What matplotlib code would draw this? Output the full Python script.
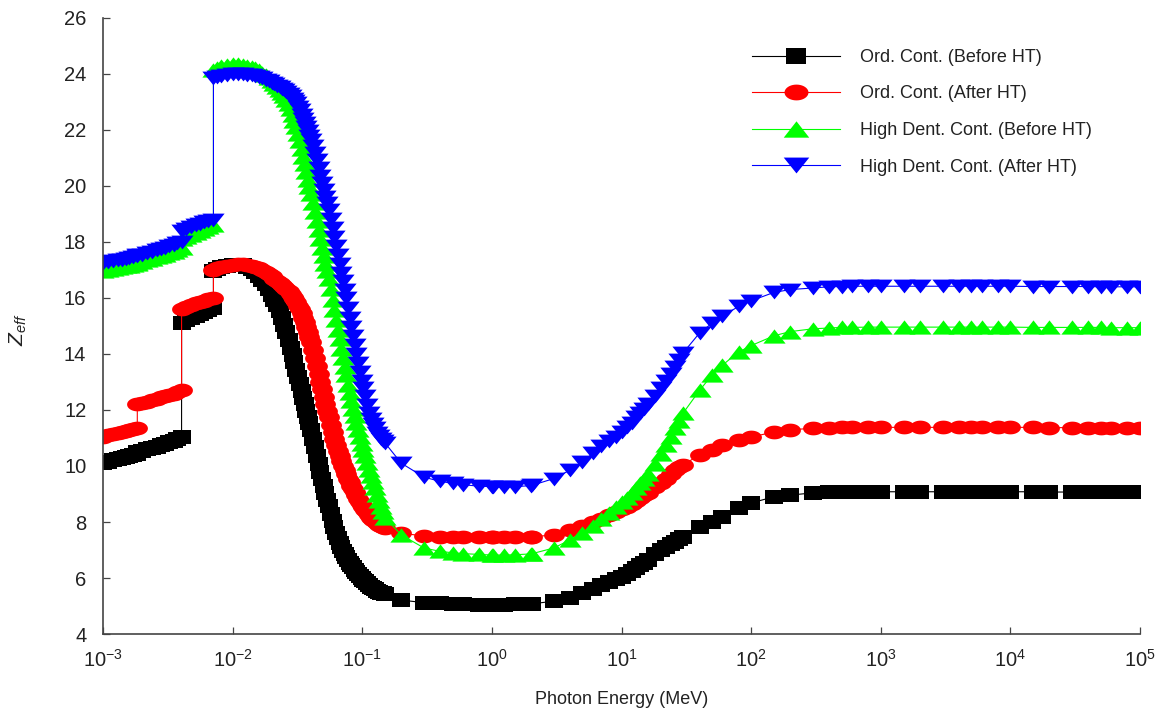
import numpy as np
import matplotlib
matplotlib.use('Agg')
import matplotlib.pyplot as plt
from matplotlib import font_manager
from matplotlib.path import Path
from matplotlib.ticker import NullLocator, FixedLocator

names = {f.name for f in font_manager.fontManager.ttflist}
FONT = 'Liberation Sans Narrow' if 'Liberation Sans Narrow' in names else 'Liberation Sans'
NARROW = FONT.endswith('Narrow')
plt.rcParams['font.family'] = [FONT, 'DejaVu Sans']
plt.rcParams['mathtext.fontset'] = 'custom'
plt.rcParams['mathtext.rm'] = FONT
plt.rcParams['mathtext.it'] = FONT + ':italic'
plt.rcParams['mathtext.bf'] = FONT + ':bold'

# ---------------- data ----------------
energy_low_keV = [1.0, 1.1, 1.2, 1.3, 1.4, 1.5, 1.6, 1.7, 1.839, 1.839, 2.0, 2.2, 2.4, 2.6, 2.8, 3.0,
                  3.25, 3.5, 3.75, 4.038, 4.038, 4.4, 4.8, 5.2, 5.6, 6.0, 6.5, 7.112, 7.112, 7.6, 8.2,
                  9.0, 10, 11, 12, 13, 14, 15, 16, 17, 18, 19,
                  20, 21, 22, 23, 24, 25, 26, 27, 28, 29, 30, 31, 32, 33, 34, 35, 36, 37, 38, 39, 40,
                  41.5, 43, 44.5, 46, 47.5, 49, 50.5, 52, 53.5, 55,
                  57, 59, 61, 63, 65, 67, 69, 71, 73, 75,
                  77.5, 80, 82.5, 85, 87.5, 90, 93, 96, 99, 102, 105,
                  109, 113, 117, 121, 125, 130, 135, 140, 145, 150]
energy_high_MeV = [0.2, 0.3, 0.4, 0.5, 0.6, 0.8, 1.0, 1.022, 1.25, 1.5, 2.0, 2.044, 3, 4, 5, 6, 7, 8,
                   9, 10, 11, 12, 13, 14, 15, 16, 18, 20, 22, 24, 26, 28, 30, 40, 50, 60, 80, 100,
                   150, 200, 300, 400, 500, 600, 800, 1000, 1500, 2000, 3000, 4000, 5000, 6000, 8000,
                   1e4, 1.5e4, 2e4, 3e4, 4e4, 5e4, 6e4, 8e4, 1e5]

ord_before_low = [10.10, 10.15, 10.20, 10.25, 10.29, 10.33, 10.36, 10.40, 10.43, 10.50, 10.54, 10.59,
                  10.64, 10.69, 10.74, 10.78, 10.84, 10.90, 10.97, 11.05, 15.10, 15.20, 15.29, 15.37,
                  15.44, 15.50, 15.57, 15.65, 16.97, 17.03, 17.09, 17.14,
                  17.17, 17.18, 17.17, 17.12, 17.03, 16.92, 16.80, 16.65, 16.50, 16.32,
                  16.10, 15.93, 15.74, 15.52, 15.28, 15.03, 14.77, 14.50, 14.23, 13.96, 13.70, 13.44,
                  13.18, 12.93, 12.68, 12.44, 12.20, 11.97, 11.74, 11.52, 11.30,
                  10.98, 10.67, 10.37, 10.08, 9.80, 9.53, 9.27, 9.02, 8.79, 8.57,
                  8.30, 8.05, 7.82, 7.61, 7.42, 7.25, 7.10, 6.97, 6.86, 6.76,
                  6.65, 6.55, 6.46, 6.38, 6.30, 6.23, 6.15, 6.07, 6.00, 5.94, 5.88,
                  5.81, 5.75, 5.69, 5.64, 5.60, 5.55, 5.51, 5.48, 5.46, 5.44]
ord_before_high = [5.21, 5.12, 5.09, 5.07, 5.06, 5.05, 5.05, 5.05, 5.05, 5.06, 5.08, 5.08, 5.17, 5.30,
                   5.45, 5.60, 5.75, 5.85, 5.95, 6.05, 6.15, 6.25, 6.35, 6.45, 6.55, 6.65, 6.85, 7.00,
                   7.10, 7.20, 7.30, 7.38, 7.45, 7.82, 8.00, 8.18, 8.50, 8.68, 8.90, 8.96, 9.04, 9.06,
                   9.07, 9.07, 9.08, 9.08, 9.08, 9.08, 9.08, 9.08, 9.08, 9.08, 9.08, 9.08, 9.08, 9.07,
                   9.07, 9.07, 9.07, 9.06, 9.06, 9.06]

ord_after_low = [11.05, 11.10, 11.14, 11.18, 11.22, 11.25, 11.28, 11.31, 11.35, 12.20, 12.25, 12.30,
                 12.35, 12.40, 12.45, 12.50, 12.54, 12.58, 12.64, 12.70, 15.60, 15.68, 15.75, 15.81,
                 15.86, 15.90, 15.95, 16.00, 17.00, 17.06, 17.11, 17.15,
                 17.19, 17.20, 17.20, 17.19, 17.16, 17.12, 17.06, 17.00, 16.93, 16.85,
                 16.77, 16.69, 16.62, 16.55, 16.48, 16.41, 16.33, 16.25, 16.15, 16.05, 15.95, 15.85,
                 15.73, 15.60, 15.45, 15.30, 15.14, 14.98, 14.80, 14.62, 14.44,
                 14.15, 13.87, 13.58, 13.29, 13.01, 12.74, 12.47, 12.22, 11.98, 11.75,
                 11.47, 11.22, 10.98, 10.76, 10.55, 10.35, 10.17, 10.00, 9.85, 9.71,
                 9.55, 9.42, 9.29, 9.17, 9.06, 8.95, 8.83, 8.71, 8.61, 8.52, 8.44,
                 8.34, 8.25, 8.15, 8.08, 8.02, 7.95, 7.90, 7.86, 7.83, 7.80]
ord_after_high = [7.60, 7.50, 7.47, 7.46, 7.45, 7.45, 7.45, 7.45, 7.45, 7.46, 7.47, 7.47, 7.54, 7.71,
                  7.85, 8.00, 8.12, 8.25, 8.35, 8.45, 8.55, 8.65, 8.75, 8.85, 8.95, 9.05, 9.25, 9.40,
                  9.55, 9.70, 9.85, 9.95, 10.05, 10.39, 10.57, 10.75, 10.93, 11.04, 11.21, 11.29,
                  11.35, 11.37, 11.38, 11.38, 11.38, 11.38, 11.38, 11.38, 11.38, 11.38, 11.38, 11.38,
                  11.38, 11.38, 11.38, 11.37, 11.37, 11.37, 11.37, 11.37, 11.37, 11.37]

high_before_low = [16.95, 16.99, 17.03, 17.07, 17.10, 17.13, 17.16, 17.19, 17.22, 17.26, 17.30, 17.35,
                   17.40, 17.45, 17.50, 17.55, 17.60, 17.66, 17.72, 17.80, 18.10, 18.18, 18.26, 18.33,
                   18.40, 18.45, 18.52, 18.60, 24.15, 24.22, 24.28, 24.32,
                   24.35, 24.35, 24.33, 24.30, 24.26, 24.20, 24.13, 24.05, 23.96, 23.86,
                   23.75, 23.65, 23.54, 23.42, 23.31, 23.20, 23.08, 22.94, 22.76, 22.55, 22.33, 22.10,
                   21.85, 21.60, 21.33, 21.05, 20.78, 20.50, 20.22, 19.95, 19.72,
                   19.40, 19.08, 18.75, 18.43, 18.11, 17.80, 17.51, 17.23, 16.96, 16.68,
                   16.31, 15.94, 15.57, 15.22, 14.87, 14.52, 14.19, 13.86, 13.55, 13.25,
                   12.91, 12.60, 12.32, 12.05, 11.80, 11.55, 11.28, 11.02, 10.80, 10.57, 10.37,
                   10.11, 9.86, 9.63, 9.42, 9.22, 8.97, 8.75, 8.55, 8.35, 8.15]
high_before_high = [7.54, 7.07, 6.95, 6.90, 6.87, 6.84, 6.82, 6.82, 6.82, 6.83, 6.86, 6.87, 7.07, 7.36,
                    7.60, 7.85, 8.10, 8.33, 8.52, 8.70, 8.85, 9.02, 9.20, 9.38, 9.55, 9.72, 10.08,
                    10.42, 10.75, 11.05, 11.35, 11.62, 11.90, 12.70, 13.25, 13.60, 14.07, 14.30, 14.65,
                    14.80, 14.90, 14.93, 14.95, 14.95, 14.96, 14.96, 14.96, 14.96, 14.96, 14.96, 14.96,
                    14.96, 14.96, 14.96, 14.95, 14.95, 14.95, 14.95, 14.95, 14.94, 14.94, 14.94]

high_after_low = [17.25, 17.28, 17.31, 17.34, 17.37, 17.40, 17.43, 17.46, 17.49, 17.52, 17.55, 17.60,
                  17.65, 17.70, 17.75, 17.80, 17.85, 17.90, 17.95, 18.00, 18.40, 18.47, 18.54, 18.60,
                  18.65, 18.70, 18.75, 18.80, 23.85, 23.90, 23.94, 23.97,
                  23.99, 24.00, 24.00, 23.98, 23.95, 23.92, 23.88, 23.84, 23.79, 23.74,
                  23.68, 23.63, 23.57, 23.52, 23.47, 23.42, 23.37, 23.29, 23.21, 23.12, 23.04, 22.95,
                  22.83, 22.70, 22.55, 22.40, 22.25, 22.10, 21.95, 21.80, 21.65,
                  21.42, 21.18, 20.92, 20.65, 20.37, 20.12, 19.87, 19.62, 19.38, 19.14,
                  18.82, 18.50, 18.18, 17.85, 17.52, 17.20, 16.90, 16.60, 16.30, 16.00,
                  15.65, 15.30, 14.97, 14.65, 14.33, 14.00, 13.67, 13.35, 13.05, 12.77, 12.50,
                  12.18, 11.90, 11.68, 11.50, 11.35, 11.18, 11.06, 10.95, 10.88, 10.82]
high_after_high = [10.10, 9.60, 9.45, 9.38, 9.33, 9.28, 9.26, 9.26, 9.25, 9.26, 9.30, 9.31, 9.55, 9.85,
                   10.15, 10.45, 10.70, 10.90, 11.05, 11.20, 11.40, 11.55, 11.75, 11.90, 12.05, 12.20,
                   12.50, 12.80, 13.05, 13.30, 13.55, 13.80, 14.05, 14.75, 15.10, 15.35, 15.70, 15.90,
                   16.20, 16.30, 16.36, 16.40, 16.41, 16.42, 16.42, 16.42, 16.42, 16.42, 16.42, 16.42,
                   16.42, 16.42, 16.42, 16.42, 16.41, 16.41, 16.41, 16.41, 16.40, 16.40, 16.40, 16.40]

labels = ['Ord. Cont. (Before HT)', 'Ord. Cont. (After HT)',
          'High Dent. Cont. (Before HT)', 'High Dent. Cont. (After HT)']
colors = ['#000000', '#ff0000', '#00ff00', '#0000ff']

energy = [e / 1000.0 for e in energy_low_keV] + energy_high_MeV
series = [ord_before_low + ord_before_high, ord_after_low + ord_after_high,
          high_before_low + high_before_high, high_after_low + high_after_high]

# ---------------- marker shapes ----------------
def rect_marker(r):
    return Path([(-0.5, -0.5 * r), (0.5, -0.5 * r), (0.5, 0.5 * r), (-0.5, 0.5 * r), (-0.5, -0.5 * r)],
                closed=True)

def ellipse_marker(r):
    t = np.linspace(0, 2 * np.pi, 41)
    return Path(np.column_stack([0.5 * np.cos(t), 0.5 * r * np.sin(t)]), closed=True)

def tri_marker(r, up=True):
    s = 1 if up else -1
    return Path([(-0.5, -0.5 * r * s), (0.5, -0.5 * r * s), (0, 0.5 * r * s), (-0.5, -0.5 * r * s)],
                closed=True)

markers = [rect_marker(0.78), ellipse_marker(0.66), tri_marker(0.64, True), tri_marker(0.62, False)]
msizes = [12.5, 15.0, 16.0, 16.0]

# ---------------- figure ----------------
W, H = 1156, 711
fig = plt.figure(figsize=(W / 100, H / 100), dpi=100)
ax = fig.add_axes([103 / W, 1 - 634 / H, (1140 - 103) / W, (634 - 18) / H])

for y, lab, c, m, ms in zip(series, labels, colors, markers, msizes):
    ax.plot(energy, y, color=c, lw=0.8, marker=m, ms=ms, mew=0, mfc=c, label=lab)

ax.set_xscale('log')
ax.set_xlim(1e-3, 1e5)
ax.set_ylim(4, 26)
ax.xaxis.set_major_locator(FixedLocator([10.0 ** k for k in range(-3, 6)]))
ax.xaxis.set_minor_locator(NullLocator())
ax.set_yticks(list(range(4, 27, 2)))

for s in ['top', 'right']:
    ax.spines[s].set_visible(False)
for s in ['left', 'bottom']:
    ax.spines[s].set_color('#444444')
    ax.spines[s].set_linewidth(1.2)

txtc = '#222222'
fs = 15.5 if NARROW else 13.0
ax.tick_params(axis='both', direction='in', length=5, width=0.9, color='#444444',
               labelcolor=txtc, labelsize=15 if NARROW else 14.5)
ax.tick_params(axis='y', pad=12)
ax.tick_params(axis='x', pad=11)

ax.set_xlabel('Photon Energy (MeV)', fontsize=fs, color=txtc, labelpad=14)
fig.text(18 / W, 1 - 330 / H, r'$Z_{eff}$', rotation=90, fontsize=15, color=txtc,
         ha='center', va='center')

fpx = fs * 100 / 72
leg = ax.legend(loc='upper left', bbox_to_anchor=(752 / W, 1 - 49 / H), bbox_transform=fig.transFigure,
                frameon=False, borderpad=0, borderaxespad=0, handlelength=88 / fpx,
                handletextpad=20 / fpx, labelspacing=1.08, markerscale=1.15, numpoints=1,
                prop={'size': fs})
for t in leg.get_texts():
    t.set_color(txtc)

fig.savefig('out.png', dpi=100)
